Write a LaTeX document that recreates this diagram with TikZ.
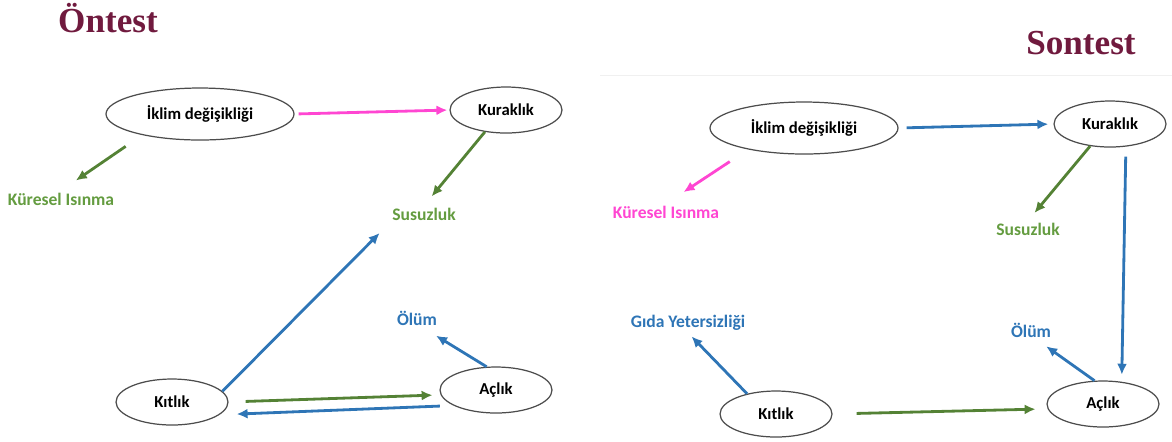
\documentclass[tikz,border=0pt]{standalone}
\usepackage{fontspec}
\setmainfont{Liberation Serif}
\newfontfamily\calibfont{Carlito}
\usetikzlibrary{shapes.geometric, arrows.meta}

\definecolor{titlered}{RGB}{112,26,62}
\definecolor{leafdark}{RGB}{84,130,53}
\definecolor{leaftext}{RGB}{100,156,64}
\definecolor{seablue}{RGB}{46,117,182}
\definecolor{hotpink}{RGB}{255,70,210}

\tikzset{
	bubble/.style={ellipse, draw=black!70, line width=0.7pt, inner sep=0pt, minimum width=2.24cm, minimum height=0.92cm, font=\calibfont\bfseries\fontsize{9.5}{11}\selectfont},
	bigbubble/.style={bubble, minimum width=3.76cm, minimum height=1.04cm},
	tag/.style={inner sep=1pt, font=\calibfont\bfseries\fontsize{10}{12}\selectfont},
	heading/.style={inner sep=0pt, font=\bfseries\fontsize{20}{24}\selectfont, text=titlered},
	link/.style={line width=1.6pt, -{Latex[length=0.22cm,width=0.2cm]}},
}

\begin{document}
\begin{tikzpicture}[x=0.02cm, y=-0.02cm]
			\useasboundingbox (0,0) rectangle (1172,441);
			\draw[black!6] (600,75) -- (1172,75);

			\node (title1) at (108,18) [heading] {Öntest};
			\node (iklim1) at (200,114) [bigbubble] {İklim değişikliği};
			\node (kurak1) at (506,110) [bubble] {Kuraklık};
			\node (kures1) at (61,199) [tag, text=leaftext] {Küresel Isınma};
			\node (susuz1) at (424,214) [tag, text=leaftext] {Susuzluk};
			\node (kitlik1) at (172,402) [bubble] {Kıtlık};
			\node (aclik1) at (496,390) [bubble] {Açlık};
			\node (olum1) at (417,318) [tag, text=seablue] {Ölüm};

			\node (title2) at (1081,43) [heading] {Sontest};
			\node (iklim2) at (804,128) [bigbubble] {İklim değişikliği};
			\node (kurak2) at (1110,124) [bubble] {Kuraklık};
			\node (kures2) at (666,212) [tag, text=hotpink] {Küresel Isınma};
			\node (susuz2) at (1028,229) [tag, text=leaftext] {Susuzluk};
			\node (gida2) at (688,323) [tag, text=seablue] {Gıda Yetersizliği};
			\node (kitlik2) at (776,414) [bubble] {Kıtlık};
			\node (aclik2) at (1103,404) [bubble] {Açlık};
			\node (olum2) at (1031,330) [tag, text=seablue] {Ölüm};

			\draw[link, hotpink, shorten <=0.08cm, shorten >=0.04cm] (iklim1.east) -- (kurak1.west);
			\draw[link, leafdark, shorten <=0.4cm, shorten >=0.36cm] (iklim1.200) -- (kures1.north);
			\draw[link, leafdark, shorten >=0.24cm] (kurak1.226) -- (susuz1.north);
			\draw[link, seablue, shorten >=0.3cm] (kitlik1.12) -- (susuz1.south west);
			\draw[link, leafdark, shorten <=0.34cm, shorten >=0.16cm] (kitlik1.east) -- (aclik1.185);
			\draw[link, seablue, shorten <=0.27cm, shorten >=0.34cm] (aclik1.200) -- (kitlik1.345);
			\draw[link, seablue, shorten >=0.32cm] (aclik1.112) -- (olum1.-60);

			\draw[link, seablue, shorten <=0.16cm, shorten >=0.1cm] (iklim2.east) -- (kurak2.west);
			\draw[link, hotpink, shorten <=0.44cm, shorten >=0.42cm] (iklim2.201) -- (kures2.north);
			\draw[link, leafdark, shorten >=0.2cm] (kurak2.228) -- (susuz2.north);
			\draw[link, seablue, shorten <=0.2cm, shorten >=0.14cm] (kurak2.-55) -- (aclik2.50);
			\draw[link, seablue, shorten >=0.1cm] (kitlik2.145) -- (gida2.south);
			\draw[link, leafdark, shorten <=0.48cm, shorten >=0.24cm] (kitlik2.east) -- (aclik2.185);
			\draw[link, seablue, shorten >=0.24cm] (aclik2.110) -- (olum2.-60);
		\end{tikzpicture}
\end{document}
